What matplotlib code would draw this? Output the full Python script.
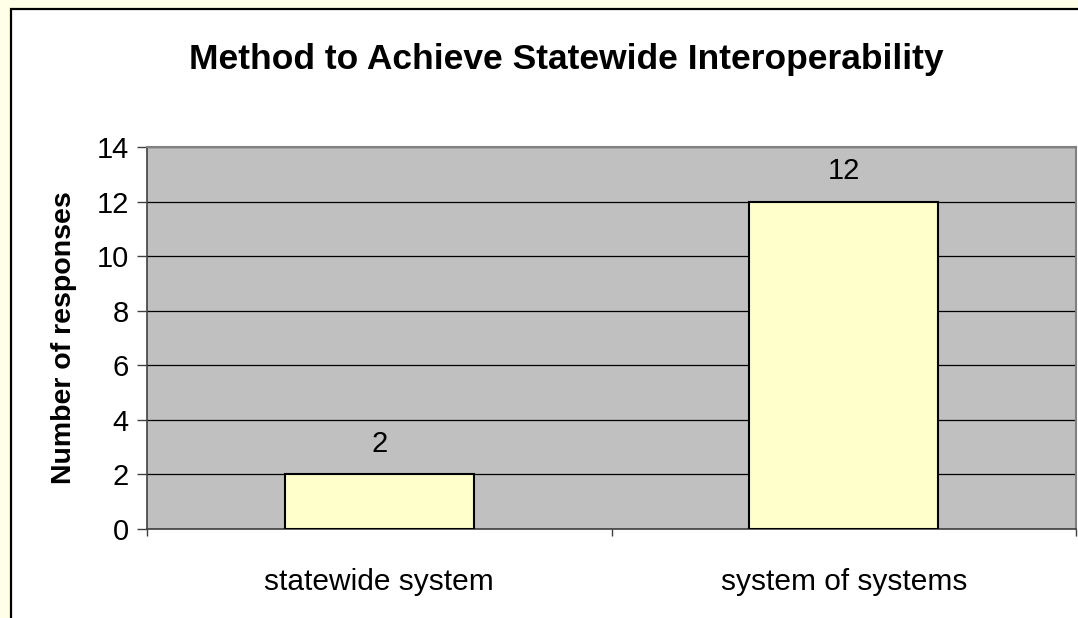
import matplotlib.pyplot as plt
from matplotlib.patches import Rectangle

# Survey results
categories = ["statewide system", "system of systems"]
responses = [2, 12]
y_ticks = [0, 2, 4, 6, 8, 10, 12, 14]

PAGE_COLOR = "#FFFFE8"
PLOT_COLOR = "#C0C0C0"
BAR_COLOR = "#FFFFCC"

plt.rcParams["font.family"] = ["Liberation Sans", "DejaVu Sans"]

fig = plt.figure(figsize=(10.78, 6.18), dpi=100, facecolor=PAGE_COLOR)

# white chart area with black frame (runs off the right/bottom edge)
frame = Rectangle((11 / 1078, -0.05), 1.1, (618 - 9) / 618 + 0.05,
                  transform=fig.transFigure, facecolor="white",
                  edgecolor="black", linewidth=1.6, zorder=-10)
fig.patches.append(frame)

ax = fig.add_axes([147 / 1078, 89 / 618, 929 / 1078, 382 / 618])
ax.set_facecolor(PLOT_COLOR)

x = list(range(len(categories)))
bars = ax.bar(x, responses, width=0.407, color=BAR_COLOR,
              edgecolor="black", linewidth=1.5, zorder=3)
ax.bar_label(bars, labels=[str(v) for v in responses], padding=12,
             fontsize=21)

ax.set_xlim(-0.5, len(categories) - 0.5)
ax.set_ylim(0, 14)
ax.set_yticks(y_ticks)
ax.yaxis.grid(True, color="black", linewidth=0.9, zorder=1)
ax.set_axisbelow(True)

# category boundaries get the tick marks, names sit between them
ax.set_xticks([i - 0.5 for i in range(len(categories) + 1)])
ax.set_xticklabels([])
ax.set_xticks(x, minor=True)
ax.set_xticklabels(categories, minor=True, fontsize=21.5)
ax.tick_params(axis="x", which="major", direction="out", length=5,
               width=1, color="#404040")
ax.tick_params(axis="x", which="minor", length=0, pad=28)
ax.tick_params(axis="y", direction="out", length=7, width=1,
               color="#404040", labelsize=21, pad=6)

for side in ("top", "right"):
    ax.spines[side].set_color("#808080")
    ax.spines[side].set_linewidth(1.5)
for side in ("left", "bottom"):
    ax.spines[side].set_color("#404040")
    ax.spines[side].set_linewidth(1.2)

ax.set_ylabel("Number of responses", fontsize=20.5, fontweight="bold",
              labelpad=14)
fig.text(566 / 1078, 1 - 60 / 618, "Method to Achieve Statewide Interoperability",
         fontsize=25.5, fontweight="bold", ha="center", va="center")

fig.savefig("out.png", dpi=100, facecolor=PAGE_COLOR)
